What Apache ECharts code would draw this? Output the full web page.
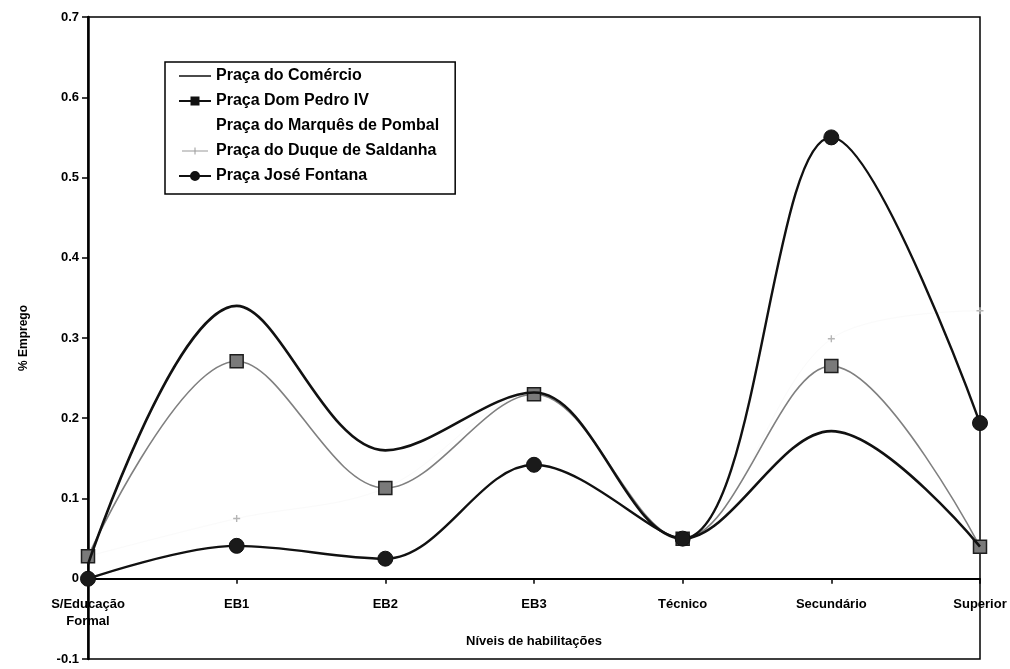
<!DOCTYPE html>
<html>
<head>
<meta charset="utf-8">
<title>% Emprego por níveis de habilitações</title>
<script src="https://cdn.jsdelivr.net/npm/echarts@6/dist/echarts.min.js"></script>
<style>
  html, body { margin: 0; padding: 0; background: #fff; }
  #chart { width: 1010px; height: 669px; }
</style>
</head>
<body>
<div id="chart"></div>
<script>
// Níveis de habilitações (eixo das categorias)
const categories = ['S/Educação\nFormal', 'EB1', 'EB2', 'EB3', 'Técnico', 'Secundário', 'Superior'];

// Proporção de emprego por praça
const comercio      = [0.018, 0.340, 0.160, 0.232, 0.050, 0.184, 0.040];
const domPedro      = [0.028, 0.271, 0.113, 0.230, 0.050, 0.265, 0.040];
const marquesPombal = [0.020, 0.300, 0.140, 0.230, 0.050, 0.300, 0.200];
const duqueSaldanha = [0.028, 0.075, 0.113, 0.230, 0.050, 0.299, 0.334];
const joseFontana   = [0.000, 0.041, 0.025, 0.142, 0.050, 0.550, 0.194];

const seriesNames = [
  'Praça do Comércio',
  'Praça Dom Pedro IV',
  'Praça do Marquês de Pombal',
  'Praça do Duque de Saldanha',
  'Praça José Fontana'
];

const FONT = '"Liberation Sans", Arial, sans-serif';
const PLUS = 'path://M4,0h2v10h-2z M0,4h10v2h-10z';

// Legend icons: tiny corner dots fix the 32x12 box so the shapes keep their proportions
const BOX = 'M0,0h0.05v0.05h-0.05z M31.95,11.95h0.05v0.05h-0.05z ';
const ICON_LINE   = 'path://' + BOX + 'M0,5.2h32v1.6h-32z';
const ICON_SQUARE = 'path://' + BOX + 'M0,5.1h32v1.8h-32z M11.5,1.5h9v9h-9z';
const ICON_PLUS   = 'path://' + BOX + 'M3,5.5h26v1h-26z M15.5,2.5h1v7h-1z';
const ICON_CIRCLE = 'path://' + BOX + 'M0,5.1h32v1.8h-32z M21,6a5,5 0 1,1 -10,0a5,5 0 1,1 10,0z';

const chart = echarts.init(document.getElementById('chart'), null, { renderer: 'canvas' });

chart.setOption({
  backgroundColor: '#ffffff',
  animation: false,
  textStyle: { fontFamily: FONT },
  grid: {
    left: 88, right: 30, top: 17, bottom: 10,
    show: true, borderColor: '#000', borderWidth: 1.5,
    containLabel: false,
    outerBoundsMode: 'none'
  },
  legend: {
    orient: 'vertical',
    left: 165, top: 62,
    padding: [5, 16, 9, 14],
    itemGap: 7,
    itemWidth: 32, itemHeight: 12,
    backgroundColor: '#fff',
    borderColor: '#000', borderWidth: 1.5,
    textStyle: { fontFamily: FONT, fontWeight: 'bold', fontSize: 16, color: '#000', lineHeight: 18 },
    data: [
      { name: seriesNames[0], icon: ICON_LINE,   itemStyle: { color: '#111', borderWidth: 0 } },
      { name: seriesNames[1], icon: ICON_SQUARE, itemStyle: { color: '#111', borderWidth: 0 } },
      { name: seriesNames[2], icon: ICON_LINE,   itemStyle: { color: '#fff', opacity: 0, borderWidth: 0 } },
      { name: seriesNames[3], icon: ICON_PLUS,   itemStyle: { color: '#9a9a9a', borderWidth: 0 } },
      { name: seriesNames[4], icon: ICON_CIRCLE, itemStyle: { color: '#111', borderWidth: 0 } }
    ]
  },
  xAxis: {
    type: 'category',
    data: categories,
    boundaryGap: false,
    name: 'Níveis de habilitações',
    nameLocation: 'middle',
    // labels and name are measured from the lower edge of the grid (the -0.1 line)
    nameGap: -25,
    nameTextStyle: { fontFamily: FONT, fontWeight: 'bold', fontSize: 13, color: '#000', verticalAlign: 'top' },
    axisLine: { onZero: true, lineStyle: { color: '#000', width: 2 } },
    axisTick: { show: true, alignWithLabel: true, length: 5, lineStyle: { color: '#000', width: 1.5 } },
    axisLabel: {
      margin: -63, color: '#000', fontFamily: FONT, fontWeight: 'bold', fontSize: 13,
      lineHeight: 17, interval: 0, verticalAlign: 'top'
    },
    splitLine: { show: false }
  },
  yAxis: {
    type: 'value',
    min: -0.1, max: 0.7, interval: 0.1,
    name: '% Emprego',
    nameLocation: 'middle',
    nameGap: 58,
    nameRotate: 90,
    nameTextStyle: { fontFamily: FONT, fontWeight: 'bold', fontSize: 12, color: '#000' },
    axisLine: { show: true, lineStyle: { color: '#000', width: 2.5 } },
    axisTick: { show: true, length: 6, lineStyle: { color: '#000', width: 1.5 } },
    axisLabel: {
      margin: 9, color: '#000', fontFamily: FONT, fontWeight: 'bold', fontSize: 13,
      formatter: v => String(Math.round(v * 10) / 10)
    },
    splitLine: { show: false }
  },
  series: [
    {
      name: seriesNames[2],
      type: 'line',
      data: marquesPombal,
      smooth: 0.35,
      symbol: 'none',
      lineStyle: { color: '#fff', width: 1, opacity: 0 },
      z: 1
    },
    {
      name: seriesNames[3],
      type: 'line',
      data: duqueSaldanha,
      smooth: 0.35,
      symbol: PLUS,
      symbolSize: 7,
      itemStyle: { color: '#b5b5b5' },
      lineStyle: { color: '#fafafa', width: 1 },
      z: 2
    },
    {
      name: seriesNames[1],
      type: 'line',
      data: domPedro,
      smooth: 0.35,
      symbol: 'rect',
      symbolSize: 13,
      itemStyle: { color: '#7a7a7a', borderColor: '#1e1e1e', borderWidth: 1.5 },
      lineStyle: { color: '#808080', width: 1.6 },
      z: 3
    },
    {
      name: seriesNames[0],
      type: 'line',
      data: comercio,
      smooth: 0.35,
      symbol: 'none',
      lineStyle: { color: '#111', width: 2.6 },
      z: 4
    },
    {
      name: seriesNames[4],
      type: 'line',
      data: joseFontana,
      smooth: 0.35,
      symbol: 'circle',
      symbolSize: 15,
      itemStyle: { color: '#1a1a1a', borderColor: '#111', borderWidth: 1 },
      lineStyle: { color: '#111', width: 2.4 },
      z: 5
    }
  ]
});
</script>
</body>
</html>
